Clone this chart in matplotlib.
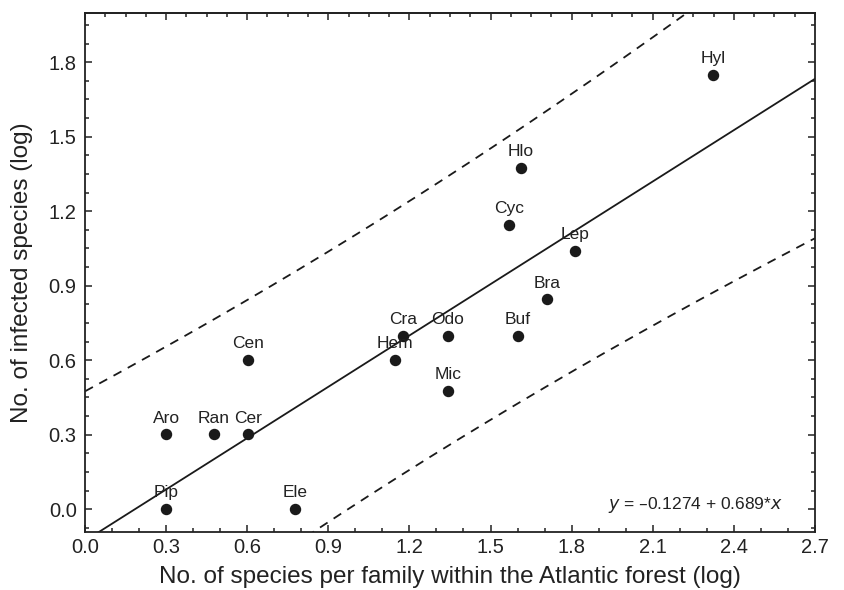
import numpy as np
import matplotlib
matplotlib.use("Agg")
import matplotlib.pyplot as plt
from matplotlib.ticker import MultipleLocator, FormatStrFormatter

plt.rcParams['font.family'] = ['Liberation Sans', 'DejaVu Sans']

# Data (log scale values)
families = ["Aro", "Ran", "Cer", "Pip", "Cen", "Ele", "Hem", "Cra", "Odo", "Mic",
            "Buf", "Cyc", "Hlo", "Bra", "Lep", "Hyl"]
x_species = [0.301, 0.477, 0.602, 0.301, 0.602, 0.778, 1.146, 1.176, 1.342, 1.342,
             1.602, 1.568, 1.613, 1.708, 1.813, 2.322]
y_infected = [0.301, 0.301, 0.301, 0.0, 0.602, 0.0, 0.602, 0.699, 0.699, 0.477,
              0.699, 1.146, 1.375, 0.845, 1.041, 1.748]
intercept = -0.1274
slope = 0.689
t_crit = 2.145  # t(0.975, df=14)

xs = np.array(x_species)
ys = np.array(y_infected)
n = len(xs)
resid = ys - (intercept + slope * xs)
s = np.sqrt(np.sum(resid ** 2) / (n - 2))
xbar = xs.mean()
sxx = np.sum((xs - xbar) ** 2)

xx = np.linspace(0, 2.7, 300)
fit = intercept + slope * xx
hw = t_crit * s * np.sqrt(1 + 1 / n + (xx - xbar) ** 2 / sxx)

fig = plt.figure(figsize=(8.44, 5.90), dpi=100)
ax = fig.add_axes([0.1007, 0.0983, 0.8649, 0.8797])

ink = '#1a1a1a'
ax.plot(xx, fit, color=ink, lw=1.3)
ax.plot(xx, fit + hw, color=ink, lw=1.3, ls=(0, (5, 4)))
ax.plot(xx, fit - hw, color=ink, lw=1.3, ls=(0, (5, 4)))
ax.scatter(xs, ys, s=52, color=ink, zorder=3)

for name, x, y in zip(families, xs, ys):
    ax.annotate(name, (x, y), xytext=(0, 8.5), textcoords='offset points',
                ha='center', va='baseline', fontsize=12.5, color='#222222')

ax.text(0.956, 0.052, r'$y$ = –0.1274 + 0.689*$x$', transform=ax.transAxes,
        ha='right', va='center', fontsize=12.5, color='#222222')

ax.set_xlim(0, 2.7)
ax.set_ylim(-0.092, 1.998)
ax.xaxis.set_major_locator(MultipleLocator(0.3))
ax.xaxis.set_minor_locator(MultipleLocator(0.1))
ax.yaxis.set_major_locator(MultipleLocator(0.3))
ax.yaxis.set_minor_locator(MultipleLocator(0.075))
ax.xaxis.set_major_formatter(FormatStrFormatter('%.1f'))
ax.yaxis.set_major_formatter(FormatStrFormatter('%.1f'))

ax.tick_params(which='both', direction='in', right=True, color='#222222', width=1.1)
ax.tick_params(which='major', length=5, labelsize=14.5, labelcolor='#222222')
ax.tick_params(which='minor', length=3)
ax.tick_params(axis='x', which='major', pad=4)
ax.tick_params(axis='y', which='major', pad=6)

sec = ax.secondary_xaxis('top')
sec.xaxis.set_major_locator(MultipleLocator(0.3))
sec.xaxis.set_minor_locator(MultipleLocator(0.075))
sec.tick_params(which='both', direction='in', labeltop=False, color='#222222', width=1.1)
sec.tick_params(which='major', length=5)
sec.tick_params(which='minor', length=3)

for sp in list(ax.spines.values()) + list(sec.spines.values()):
    sp.set_linewidth(1.3)
    sp.set_color('#222222')

ax.set_xlabel('No. of species per family within the Atlantic forest (log)',
              fontsize=17.5, color='#222222', va='center')
ax.set_ylabel('No. of infected species (log)', fontsize=17.5, color='#222222',
              va='center')
ax.xaxis.set_label_coords(0.5, -0.087)
ax.yaxis.set_label_coords(-0.086, 0.5)

fig.savefig('out.png', dpi=100)
